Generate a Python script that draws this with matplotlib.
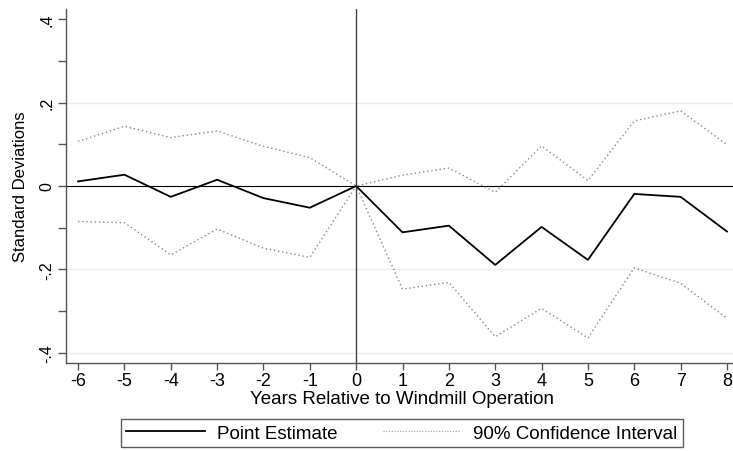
import numpy as np
import matplotlib
matplotlib.use('Agg')
import matplotlib.pyplot as plt
from matplotlib.lines import Line2D

# Event-study estimates
years     = [-6, -5, -4, -3, -2, -1, 0, 1, 2, 3, 4, 5, 6, 7, 8]
estimate  = [0.011, 0.027, -0.026, 0.015, -0.029, -0.052, 0.0,
             -0.111, -0.095, -0.189, -0.098, -0.177, -0.019, -0.026, -0.109]
ci_upper  = [0.107, 0.143, 0.116, 0.132, 0.095, 0.068, 0.0,
             0.026, 0.043, -0.015, 0.096, 0.013, 0.156, 0.180, 0.099]
ci_lower  = [-0.085, -0.088, -0.165, -0.103, -0.149, -0.171, 0.0,
             -0.247, -0.231, -0.361, -0.293, -0.364, -0.196, -0.233, -0.317]
y_ticks   = [0.4, 0.2, 0.0, -0.2, -0.4]
y_labels  = ['.4', '.2', '0', '-.2', '-.4']
grid_at   = [0.2, -0.2, -0.4]

plt.rcParams['font.family'] = ['Liberation Sans', 'DejaVu Sans']

W, H = 733, 452
fig = plt.figure(figsize=(W / 100, H / 100), dpi=100)
ax = fig.add_axes([66 / W, 1 - 364 / H, (733 - 66) / W, (364 - 10) / H])

spine_col = '#555555'
for s in ['top', 'right']:
    ax.spines[s].set_visible(False)
for s in ['left', 'bottom']:
    ax.spines[s].set_color(spine_col)
    ax.spines[s].set_linewidth(1.0)

ax.set_xlim(-6.26, 8.13)
ax.set_ylim(-0.424, 0.424)

# Grid lines
for g in grid_at:
    ax.axhline(g, color='#e4eef0', lw=1.0, zorder=0)

# Reference lines
ax.axhline(0, color='black', lw=0.8, zorder=1)
ax.axvline(0, color='#444444', lw=1.0, zorder=1)

# Series
ax.plot(years, ci_upper, color='#888888', lw=1.0, ls=(0, (1, 2)), zorder=2)
ax.plot(years, ci_lower, color='#888888', lw=1.0, ls=(0, (1, 2)), zorder=2)
ax.plot(years, estimate, color='black', lw=1.3, zorder=3)

ax.set_xticks(years)
ax.set_xticklabels([str(y) for y in years], fontsize=13)
ax.set_yticks(y_ticks)
ax.set_yticklabels(y_labels, rotation=90, va='center', fontsize=11.5)
ax.set_yticks([0.3, 0.1, -0.1, -0.3], minor=True)
ax.tick_params(axis='both', which='both', color=spine_col, width=1.0)
ax.tick_params(axis='x', length=5.0, pad=1.5)
ax.tick_params(axis='y', which='both', length=5.5, pad=3)

ax.set_xlabel('Years Relative to Windmill Operation', fontsize=13.5)
ax.xaxis.set_label_coords((402 - 66) / 667, -(400 - 364) / 354)
ax.xaxis.label.set_va('center')
ax.set_ylabel('Standard Deviations', fontsize=12)
ax.yaxis.set_label_coords((21 - 66) / 667, (364 - 187) / 354)
ax.yaxis.label.set_va('center')

handles = [Line2D([], [], color='black', lw=1.3),
           Line2D([], [], color='#999999', lw=0.8, ls=(0, (1, 1.5)))]
leg = fig.legend(handles, ['Point Estimate', '90% Confidence Interval'],
                 loc='center', bbox_to_anchor=(402 / W, 1 - 434 / H), ncol=2,
                 fontsize=13.5, handlelength=4.2, handletextpad=0.64,
                 columnspacing=2.4, frameon=True, fancybox=False,
                 borderpad=0.3, borderaxespad=0)
leg.get_frame().set_edgecolor('#333333')
leg.get_frame().set_linewidth(1.0)

fig.savefig('out.png', dpi=100)
